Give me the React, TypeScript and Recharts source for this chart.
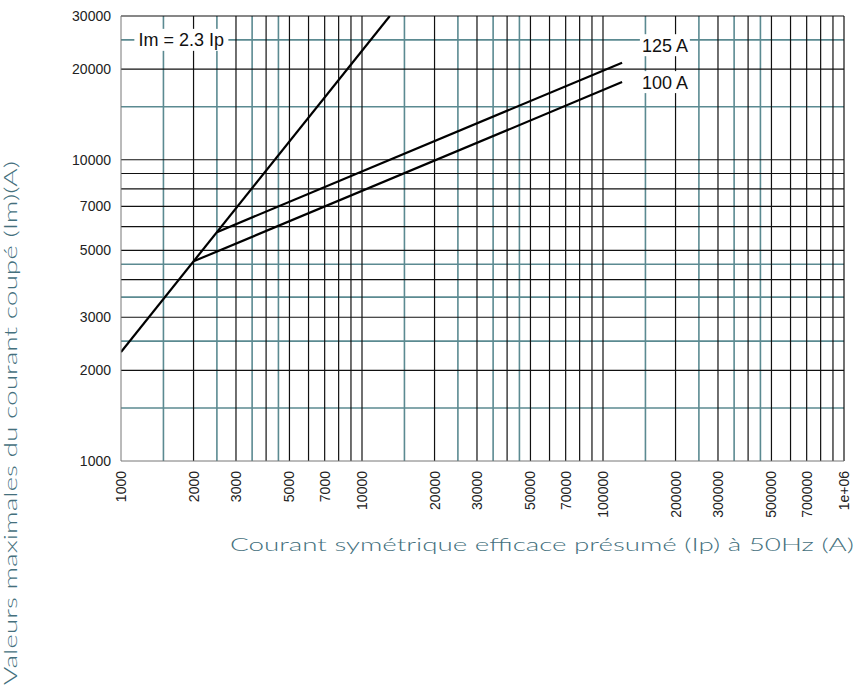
import { Line, LineChart, ReferenceDot, ReferenceLine, XAxis, YAxis } from "recharts";

// values (log-log)
const ratioLine = [
  { x: 1000, y: 2300 },
  { x: 13043, y: 30000 },
];
const line125 = [
  { x: 2500, y: 5750 },
  { x: 120000, y: 21000 },
];
const line100 = [
  { x: 2000, y: 4600 },
  { x: 120000, y: 18100 },
];

const xTicks = [1000, 2000, 3000, 5000, 7000, 10000, 20000, 30000, 50000, 70000, 100000, 200000, 300000, 500000, 700000, 1000000];
const yTicks = [1000, 2000, 3000, 5000, 7000, 10000, 20000, 30000];

const xGridBlack = [2000, 3000, 4000, 5000, 6000, 7000, 8000, 9000, 10000, 20000, 30000, 40000, 50000, 60000, 70000, 80000, 90000, 100000, 200000, 300000, 400000, 500000, 600000, 700000, 800000, 900000, 1000000];
const xGridTeal = [1500, 2500, 3500, 4500, 15000, 25000, 35000, 45000, 150000, 250000, 350000, 450000];
const yGridBlack = [2000, 3000, 4000, 5000, 6000, 7000, 8000, 9000, 10000, 20000, 30000];
const yGridTeal = [1500, 2500, 3500, 4500, 15000, 25000];

const labels = [
  { text: "Im = 2.3 Ip", x: 1780, y: 25000, anchor: "middle" },
  { text: "125 A", x: 145000, y: 24000, anchor: "start" },
  { text: "100 A", x: 145000, y: 18100, anchor: "start" },
];
const boxWidth: Record<string, number> = { "Im = 2.3 Ip": 94, "125 A": 50, "100 A": 50 };

const TEAL = "#5b8a91";
const TITLE = "#44707d";
const FONT = "'Liberation Sans', Arial, sans-serif";
const TITLE_FONT = "Lato, 'Open Sans', sans-serif";

const fmtX = (v: number) => (v === 1000000 ? "1e+06" : String(v));

function XTick(props: any) {
  const { x, y, payload } = props;
  const ty = y + 2;
  return (
    <text x={x} y={ty} transform={`rotate(-90 ${x} ${ty})`} textAnchor="end" dominantBaseline="central" fontSize={14} fontFamily={FONT} fill="#222">
      {fmtX(payload.value)}
    </text>
  );
}

function LabelBox(props: any) {
  const { cx, cy, text, anchor } = props;
  const w = boxWidth[text];
  const left = anchor === "middle" ? cx - w / 2 : cx - 2;
  return (
    <g>
      <rect x={left} y={cy - 11} width={w} height={22} fill="#fff" />
      <text x={cx} y={cy + 6.5} textAnchor={anchor} fontSize={18} fontFamily={FONT} fill="#111">
        {text}
      </text>
    </g>
  );
}

export default function App() {
  return (
    <div style={{ position: "absolute", left: 0, top: 0, width: 859, height: 687, background: "#fff" }}>
      <LineChart width={859} height={687} margin={{ top: 16, right: 15, bottom: 166, left: 41 }}>
        <XAxis
          type="number"
          dataKey="x"
          scale="log"
          domain={[1000, 1000000]}
          ticks={xTicks}
          allowDataOverflow
          height={60}
          tickLine={false}
          interval={0}
          stroke="#777"
          tick={<XTick />}
        />
        <YAxis
          type="number"
          dataKey="y"
          scale="log"
          domain={[1000, 30000]}
          ticks={yTicks}
          allowDataOverflow
          width={80}
          tickLine={false}
          tickMargin={4}
          interval={0}
          stroke="#777"
          tick={{ fontSize: 14, fontFamily: FONT, fill: "#222" }}
        />
        {xGridTeal.map((v) => (
          <ReferenceLine key={`xt${v}`} x={v} stroke={TEAL} strokeWidth={1.6} ifOverflow="hidden" />
        ))}
        {yGridTeal.map((v) => (
          <ReferenceLine key={`yt${v}`} y={v} stroke={TEAL} strokeWidth={1.6} ifOverflow="hidden" />
        ))}
        {xGridBlack.map((v) => (
          <ReferenceLine key={`xb${v}`} x={v} stroke="#111" strokeWidth={1.2} />
        ))}
        {yGridBlack.map((v) => (
          <ReferenceLine key={`yb${v}`} y={v} stroke="#111" strokeWidth={1.2} />
        ))}
        <Line data={ratioLine} dataKey="y" stroke="#000" strokeWidth={2.2} dot={false} isAnimationActive={false} />
        <Line data={line125} dataKey="y" stroke="#000" strokeWidth={2.2} dot={false} isAnimationActive={false} />
        <Line data={line100} dataKey="y" stroke="#000" strokeWidth={2.2} dot={false} isAnimationActive={false} />
        {labels.map((l) => (
          <ReferenceDot key={l.text} x={l.x} y={l.y} r={0} shape={(p: any) => <LabelBox {...p} text={l.text} anchor={l.anchor} />} />
        ))}
      </LineChart>
      <svg width={859} height={687} style={{ position: "absolute", left: 0, top: 0, pointerEvents: "none" }}>
        <text x={542} y={551} textAnchor="middle" fontSize={18.5} fontWeight={300} fontFamily={TITLE_FONT} fill={TITLE} textLength={624} lengthAdjust="spacingAndGlyphs">
          Courant symétrique efficace présumé (Ip) à 50Hz (A)
        </text>
        <text x={17} y={423} transform="rotate(-90 17 423)" textAnchor="middle" fontSize={18.5} fontWeight={300} fontFamily={TITLE_FONT} fill={TITLE} textLength={524} lengthAdjust="spacingAndGlyphs">
          Valeurs maximales du courant coupé (Im)(A)
        </text>
      </svg>
    </div>
  );
}
